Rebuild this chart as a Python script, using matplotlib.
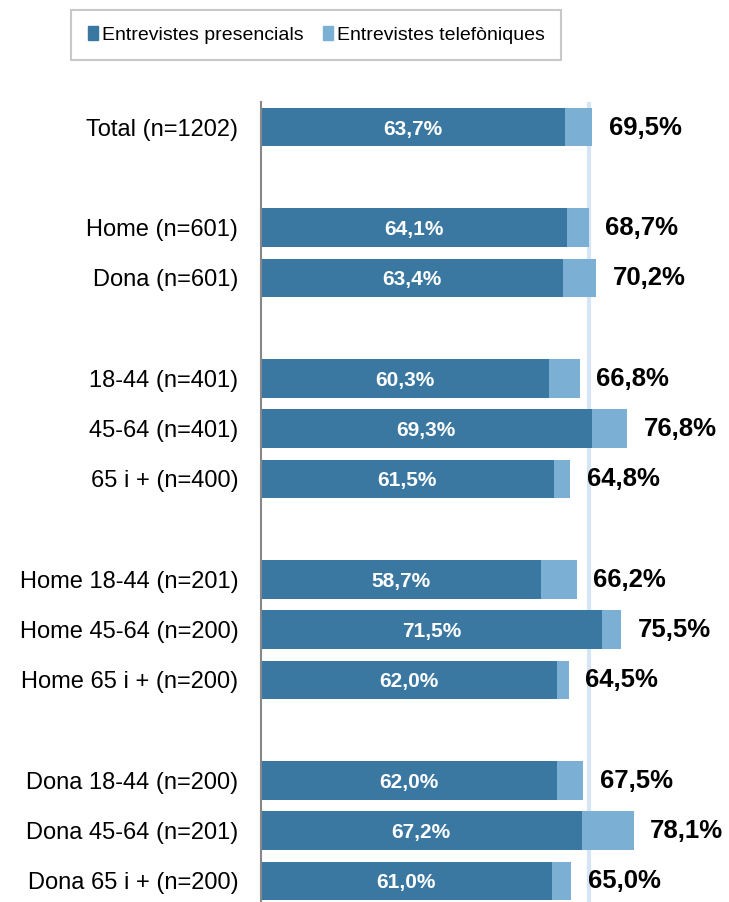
import matplotlib.pyplot as plt
from matplotlib.patches import Patch

plt.rcParams['font.family'] = ['Liberation Sans', 'DejaVu Sans']

# --- dades ---
categories = ['Total (n=1202)',
              'Home (n=601)', 'Dona (n=601)',
              '18-44 (n=401)', '45-64 (n=401)', '65 i + (n=400)',
              'Home 18-44 (n=201)', 'Home 45-64 (n=200)', 'Home 65 i + (n=200)',
              'Dona 18-44 (n=200)', 'Dona 45-64 (n=201)', 'Dona 65 i + (n=200)']
positions = [0, 2, 3, 5, 6, 7, 9, 10, 11, 13, 14, 15]

presencials = [63.7, 64.1, 63.4, 60.3, 69.3, 61.5, 58.7, 71.5, 62.0, 62.0, 67.2, 61.0]
totals = [69.5, 68.7, 70.2, 66.8, 76.8, 64.8, 66.2, 75.5, 64.5, 67.5, 78.1, 65.0]
telefoniques = [t - p for t, p in zip(totals, presencials)]
ref_line = 68.7

c_dark = '#3A77A1'
c_light = '#7BAFD4'

fig = plt.figure(figsize=(7.29, 9.02), dpi=100)
ax = fig.add_axes([260.5 / 729, 0, 453.8 / 729, 800 / 902])

ax.axvline(ref_line, color='#D5E5F3', linewidth=3, zorder=0)

ax.barh(positions, presencials, height=0.765, color=c_dark, zorder=2)
ax.barh(positions, telefoniques, left=presencials, height=0.765, color=c_light, zorder=2)

for y, p, t in zip(positions, presencials, totals):
    ax.text(p / 2, y, f'{p:.1f}%'.replace('.', ','), ha='center', va='center_baseline',
            color='white', fontsize=15, fontweight='bold', zorder=3)
    ax.text(t + 3.5, y - 0.04, f'{t:.1f}%'.replace('.', ','), ha='left', va='center_baseline',
            color='black', fontsize=18.5, fontweight='bold', zorder=3)

ax.set_xlim(0, 95)
ax.set_ylim(15.42, -0.5)
ax.set_yticks(positions)
ax.set_yticklabels(categories, fontsize=17)
ax.tick_params(axis='y', length=0, pad=16)
ax.set_xticks([])

for s in ['top', 'right', 'bottom']:
    ax.spines[s].set_visible(False)
ax.spines['left'].set_color('#888888')
ax.spines['left'].set_linewidth(1.5)
ax.spines['left'].set_zorder(4)

handles = [Patch(color=c_dark, label='Entrevistes presencials'),
           Patch(color=c_light, label='Entrevistes telefòniques')]
leg = fig.legend(handles=handles, loc='center', bbox_to_anchor=(316 / 729, 1 - 35 / 902),
                 ncol=2, fontsize=14, frameon=True, fancybox=False,
                 handlelength=0.52, handleheight=0.67, handletextpad=0.2,
                 columnspacing=1.0, borderpad=0.85, borderaxespad=0)
leg.get_frame().set_edgecolor('#BBBBBB')
leg.get_frame().set_linewidth(1.5)

fig.savefig('out.png', dpi=100)
